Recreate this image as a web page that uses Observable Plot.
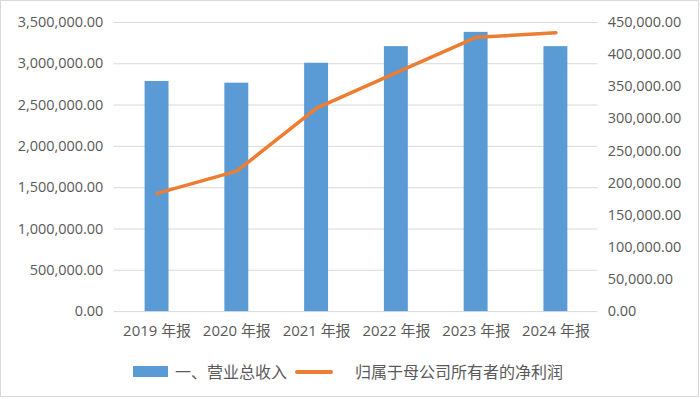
<!DOCTYPE html>
<html>
<head>
<meta charset="utf-8">
<script src="https://cdn.jsdelivr.net/npm/d3@7"></script>
<script src="https://cdn.jsdelivr.net/npm/@observablehq/plot@0.6"></script>
<style>
  html, body { margin: 0; padding: 0; background: #fff; }
  #frame { position: relative; width: 699px; height: 397px; box-sizing: border-box; border: 1px solid #d9d9d9; overflow: hidden; }
  #chart { position: absolute; left: -1px; top: -1px; }
  .lg { position: absolute; font-family: "Noto Sans CJK SC", sans-serif; font-size: 16px; color: #595959; line-height: 20px; white-space: nowrap; }
</style>
</head>
<body>
<div id="frame">
  <div id="chart"></div>
  <div class="lg" style="left:132px; top:365px; width:35px; height:11px; background:#5B9BD5;"></div>
  <div class="lg" id="lg1" style="left:174px; top:360px;"></div>
  <div class="lg" style="left:294px; top:369px; width:38px; height:4px; border-radius:2px; background:#ED7D31;"></div>
  <div class="lg" id="lg2" style="left:354px; top:360px;"></div>
</div>
<script>
const years = ["2019 年报", "2020 年报", "2021 年报", "2022 年报", "2023 年报", "2024 年报"];
const revenue = [2785000, 2765000, 3006000, 3207000, 3380000, 3207000];
const profit = [184000, 218600, 316700, 372000, 426800, 434000];
const leftTicks = [0, 500000, 1000000, 1500000, 2000000, 2500000, 3000000, 3500000];
const rightTicks = [0, 50000, 100000, 150000, 200000, 250000, 300000, 350000, 400000, 450000];
const seriesNames = ["一、营业总收入", "归属于母公司所有者的净利润"];

const leftMax = 3500000, rightMax = 450000;
const ratio = leftMax / rightMax;
const fmt = d3.format(",.2f");

const data = years.map((y, i) => ({year: y, revenue: revenue[i], profit: profit[i]}));

document.getElementById("lg1").textContent = seriesNames[0];
document.getElementById("lg2").textContent = seriesNames[1];

const chart = Plot.plot({
  width: 700,
  height: 342,
  marginLeft: 114,
  marginRight: 101,
  marginTop: 22,
  marginBottom: 30,
  style: {fontFamily: "'Open Sans', 'Noto Sans CJK SC', sans-serif", fontSize: "14.5px", color: "#595959", background: "transparent"},
  x: {domain: years, paddingInner: 0.7, paddingOuter: 0.35, label: null},
  y: {domain: [0, leftMax], label: null},
  marks: [
    Plot.ruleY(leftTicks, {stroke: "#d9d9d9", strokeWidth: 1}),
    Plot.barY(data, {x: "year", y: "revenue", fill: "#5B9BD5"}),
    Plot.line(data, {x: "year", y: d => d.profit * ratio, stroke: "#ED7D31", strokeWidth: 3.5, strokeLinecap: "round", strokeLinejoin: "round"}),
    Plot.axisY(leftTicks, {anchor: "left", tickSize: 0, tickPadding: 11, tickFormat: fmt, label: null}),
    Plot.axisY(rightTicks.map(v => v * ratio), {anchor: "right", tickSize: 0, tickPadding: 10, tickFormat: d => fmt(Math.round(d / ratio)), label: null}),
    Plot.axisX({tickSize: 0, tickPadding: 14, fontSize: 15, label: null})
  ]
});
document.getElementById("chart").appendChild(chart);
</script>
</body>
</html>
